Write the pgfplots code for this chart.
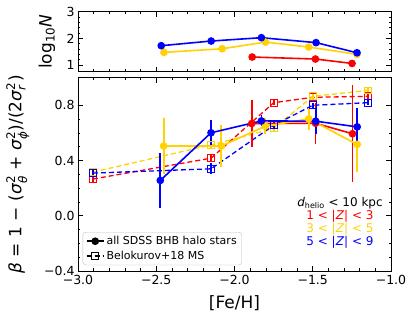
\documentclass[border=0pt]{standalone}
\usepackage{fontspec}
\setmainfont{DejaVu Sans}
\usepackage{amsmath}
\usepackage{pgfplots}
\pgfplotsset{compat=1.18}

\definecolor{cred}{RGB}{255,0,0}
\definecolor{cgold}{RGB}{255,210,0}
\definecolor{cblue}{RGB}{0,0,255}

\pgfplotsset{
  panel/.style={
    scale only axis, width=313pt,
    xmin=-3, xmax=-1,
    xtick={-3,-2.5,-2,-1.5,-1},
    minor x tick num=4,
    tick align=inside,
    major tick length=5pt, minor tick length=2.5pt,
    every tick/.style={black, line width=0.6pt},
    axis line style={line width=0.8pt},
    tick label style={font=\fontsize{12.5}{14}\selectfont},
    label style={font=\fontsize{17}{19}\selectfont},
  },
  solidser/.style={line width=1.6pt, mark=*, mark size=3pt,
    error bars/y dir=both, error bars/y explicit,
    error bars/error bar style={line width=1.8pt, solid}, error bars/error mark=none},
  dashser/.style={line width=1.3pt, dash pattern=on 5pt off 3pt,
    mark=square, mark size=3.4pt, mark options={solid, line width=1pt},
    error bars/y dir=both, error bars/y explicit,
    error bars/error bar style={line width=1.5pt, solid}, error bars/error mark=none},
}

\begin{document}
\begin{tikzpicture}
\useasboundingbox (-78pt,-50pt) rectangle (337pt,271pt);

% lower panel: anisotropy
\begin{axis}[panel,
  at={(0,0)}, height=193.3pt,
  ymin=-0.4, ymax=1.0,
  ytick={-0.4,0,0.4,0.8},
  yticklabels={−0.4,0.0,0.4,0.8},
  xticklabels={−3.0,−2.5,−2.0,−1.5,−1.0},
  xticklabel style={yshift=-1pt},
  minor y tick num=3,
  xlabel={[Fe/H]},
  xlabel style={at={(axis description cs:0.5,-0.165)}, anchor=center},
  ylabel={\textit{β} = 1 − (\textit{σ}$^{\text{2}}_{\text{\textit{θ}}}$ + \textit{σ}$^{\text{2}}_{\text{\textit{ϕ}}}$)/(2\textit{σ}$^{\text{2}}_{\text{\textit{r}}}$)},
  ylabel style={at={(axis description cs:-0.192,0.5)}, anchor=center},
  legend style={at={(0.015,0.03)}, anchor=south west, draw=black!25,
    rounded corners=3pt, font=\fontsize{11}{13}\selectfont,
    row sep=1pt},
  legend cell align=left,
]
% Belokurov+18 MS
\addplot[cred, dashser, forget plot] table[y error=e] {
x y e
-2.905 0.266 0.02
-2.150 0.417 0.03
-1.749 0.819 0.02
-1.500 0.858 0.02
-1.148 0.865 0.02
};
\addplot[cgold, dashser, forget plot] table[y error=e] {
x y e
-2.905 0.316 0.03
-2.150 0.513 0.02
-1.749 0.632 0.02
-1.500 0.865 0.02
-1.148 0.908 0.02
};
\addplot[cblue, dashser, forget plot] table[y error=e] {
x y e
-2.905 0.309 0.03
-2.150 0.340 0.04
-1.749 0.656 0.03
-1.500 0.800 0.02
-1.148 0.819 0.02
};
% all SDSS BHB halo stars
\addplot[cred, solidser, forget plot] table[y error=e] {
x y e
-1.890 0.668 0.17
-1.482 0.670 0.15
-1.246 0.594 0.35
};
\addplot[cgold, solidser, forget plot] table[y error=e] {
x y e
-2.453 0.505 0.20
-2.084 0.505 0.155
-1.803 0.649 0.06
-1.526 0.702 0.08
-1.216 0.517 0.20
};
\addplot[cblue, solidser, forget plot] table[y error=e] {
x y e
-2.474 0.256 0.20
-2.150 0.601 0.09
-1.828 0.687 0.04
-1.481 0.685 0.09
-1.216 0.644 0.14
};
\addlegendimage{black, line width=1.6pt, mark=*, mark size=3pt}
\addlegendentry{all SDSS BHB halo stars}
\addlegendimage{black, line width=1.3pt, dash pattern=on 5pt off 3pt, mark=square, mark size=3.4pt, mark options={solid}}
\addlegendentry{Belokurov+18 MS}

\node[font=\fontsize{12}{14}\selectfont, black] at (axis cs:-1.326,0.092) {\textit{d}\textsubscript{helio} < 10 kpc};
\node[font=\fontsize{12}{14}\selectfont, cred] at (axis cs:-1.326,-0.002) {1 < |\textit{Z}| < 3};
\node[font=\fontsize{12}{14}\selectfont, cgold] at (axis cs:-1.326,-0.096) {3 < |\textit{Z}| < 5};
\node[font=\fontsize{12}{14}\selectfont, cblue] at (axis cs:-1.326,-0.190) {5 < |\textit{Z}| < 9};
\end{axis}

% upper panel: number of stars
\begin{axis}[panel,
  at={(0,199.3pt)}, height=60pt,
  ymin=0.75, ymax=3,
  ytick={1,2,3},
  yticklabels={1,2,3},
  minor y tick num=4,
  xticklabels={},
  ylabel={log\textsubscript{10}\textit{N}},
  ylabel style={at={(axis description cs:-0.099,0.5)}, anchor=center},
]
\addplot[cred, solidser] table[y error=e] {
x y e
-1.887 1.30 0.02
-1.483 1.225 0.03
-1.249 1.06 0.06
};
\addplot[cgold, line width=1.6pt, mark=*, mark size=3pt] table {
x y
-2.451 1.475
-2.079 1.61
-1.802 1.86
-1.526 1.675
-1.217 1.40
};
\addplot[cblue, line width=1.6pt, mark=*, mark size=3pt] table {
x y
-2.468 1.725
-2.149 1.90
-1.828 2.025
-1.479 1.84
-1.217 1.46
};
\end{axis}
\end{tikzpicture}
\end{document}
